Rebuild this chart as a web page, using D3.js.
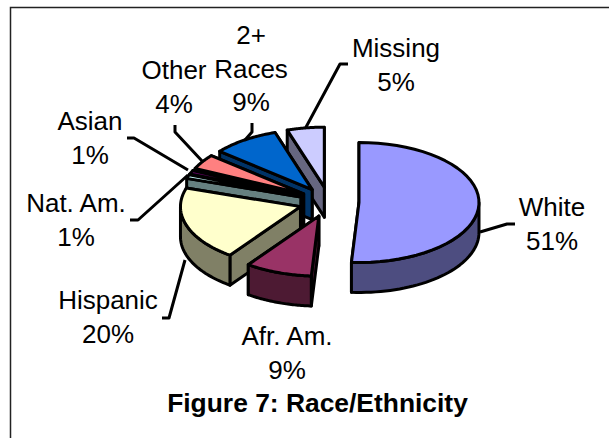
<!DOCTYPE html>
<html>
<head>
<meta charset="utf-8">
<script src="https://cdn.jsdelivr.net/npm/d3@7"></script>
<style>
  html, body { margin: 0; padding: 0; background: #fff; }
  text { font-family: "Liberation Sans", Arial, sans-serif; font-size: 26px; fill: #000; text-anchor: middle; }
  .title { font-weight: bold; font-size: 26.4px; }
</style>
</head>
<body>
<div id="chart"></div>
<script>
const categories = ['White', 'Afr. Am.', 'Hispanic', 'Nat. Am.', 'Asian', 'Other', '2+ Races', 'Missing']
const values = [51, 9, 20, 1, 1, 4, 9, 5]
const topColors = ['#9999ff', '#993366', '#ffffcc', '#ccffff', '#660066', '#ff8080', '#0066cc', '#ccccff']
const sideColors = ['#4d4d80', '#4d1a33', '#808066', '#668080', '#330033', '#804040', '#003366', '#666680']
const titleText = 'Figure 7: Race/Ethnicity'

const width = 609
const height = 438
const rx = 120
const ry = 60
const depth = 30
const explode = 0.25
const cx = 329
const cy = 202
const lineGap = 33.5

// first baseline of each label, hand placed like the original
const labelPos = [[552, 216], [287, 345], [108, 309], [76, 212], [90, 130], [174, 79], [251, 44], [396, 57]]

// leader lines by slice, none on Afr. Am.
const leaders = [
  [[515, 224], [507, 224], [480, 232]],
  null,
  [[162, 318], [169, 318], [185, 260]],
  [[130, 220], [138, 220], [188, 175]],
  [[127, 138], [134, 138], [188, 170]],
  [[175, 125], [175, 132], [203, 162]],
  [[252, 123], [252, 132], [245, 140]],
  [[348, 64], [340, 64], [305, 129]]
]

const svg = d3.select('#chart').append('svg')
  .attr('width', width)
  .attr('height', height)

// frame
svg.append('path')
  .attr('d', d3.line()([[10.5, height], [10.5, 7.5], [width, 7.5]]))
  .attr('fill', 'none').attr('stroke', '#222').attr('stroke-width', 1.5)

// unit circle -> page, the pie is just a squashed circle
const x = d3.scaleLinear().domain([-1, 1]).range([cx - rx, cx + rx])
const y = d3.scaleLinear().domain([-1, 1]).range([cy - ry, cy + ry])

const arcs = d3.pie().sort(null).value(d => d)(values)
const line = d3.line()

const point = (a, mid, r, drop) => [
  x(Math.sin(mid) * explode + Math.sin(a) * r),
  y(-Math.cos(mid) * explode - Math.cos(a) * r) + drop
]

const arcPoints = (a0, a1, mid, drop) =>
  d3.range(0, 41).map(i => point(a0 + (a1 - a0) * i / 40, mid, 1, drop))

const closed = pts => line(pts) + 'Z'

// back slices first, white last
const order = [7, 6, 5, 4, 3, 2, 1, 0]

const marks = svg.append('g')
  .attr('stroke', '#000')
  .attr('stroke-width', 3)
  .attr('stroke-linejoin', 'round')

// leaders go under the slices
leaders.forEach(pts => {
  if (!pts) return
  marks.append('path').attr('fill', 'none').attr('d', line(pts))
})

order.forEach(i => {
  const d = arcs[i]
  const mid = (d.startAngle + d.endAngle) / 2
  const side = sideColors[i]

  // the two cut faces
  ;[d.endAngle, d.startAngle].forEach(a => {
    marks.append('path')
      .attr('fill', side)
      .attr('d', closed([
        point(0, mid, 0, 0), point(a, mid, 1, 0),
        point(a, mid, 1, depth), point(0, mid, 0, depth)
      ]))
  })

  // outer rim, only the part facing the viewer
  const a0 = Math.max(d.startAngle, Math.PI / 2)
  const a1 = Math.min(d.endAngle, Math.PI * 1.5)
  if (a1 > a0) {
    marks.append('path')
      .attr('fill', side)
      .attr('d', closed(arcPoints(a0, a1, mid, 0).concat(arcPoints(a1, a0, mid, depth))))
  }

  marks.append('path')
    .attr('fill', topColors[i])
    .attr('d', closed([point(0, mid, 0, 0)].concat(arcPoints(d.startAngle, d.endAngle, mid, 0))))
})

// labels
categories.forEach((name, i) => {
  const [lx, ly] = labelPos[i]
  const t = svg.append('text').attr('x', lx).attr('y', ly)
  let rows = [name, values[i] + '%']
  if (name === '2+ Races') rows = ['2+', 'Races', values[i] + '%']
  rows.forEach((row, k) => {
    t.append('tspan').attr('x', lx).attr('y', ly + k * lineGap).text(row)
  })
})

svg.append('text')
  .attr('class', 'title')
  .attr('x', 317.5)
  .attr('y', 412)
  .text(titleText)
</script>
</body>
</html>
